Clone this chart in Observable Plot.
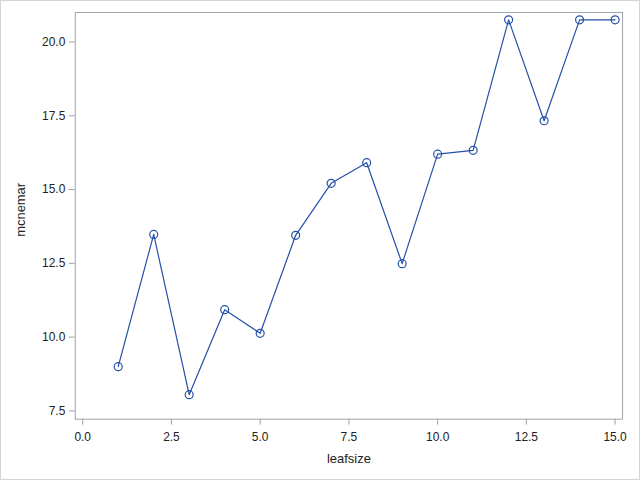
<!DOCTYPE html>
<html>
<head>
<meta charset="utf-8">
<script src="https://cdn.jsdelivr.net/npm/d3@7"></script>
<script src="https://cdn.jsdelivr.net/npm/@observablehq/plot@0.6"></script>
<style>
  html, body { margin: 0; padding: 0; background: #fff; }
  #chart { width: 640px; height: 480px; box-sizing: border-box; border: 1px solid #d4d4d4; position: relative; overflow: hidden; }
  #chart svg { position: absolute; left: -1px; top: -1px; }
</style>
</head>
<body>
<div id="chart"></div>
<script>
const leafsize = [1, 2, 3, 4, 5, 6, 7, 8, 9, 10, 11, 12, 13, 14, 15];
const mcnemar = [9.0, 13.48, 8.05, 10.93, 10.13, 13.45, 15.21, 15.91, 12.49, 16.2, 16.33, 20.75, 17.33, 20.75, 20.75];
const xTicks = [0, 2.5, 5, 7.5, 10, 12.5, 15];
const yTicks = [7.5, 10, 12.5, 15, 17.5, 20];

const data = leafsize.map((x, i) => ({leafsize: x, mcnemar: mcnemar[i]}));
const lineColor = "#2350a8";
const axisColor = "#a0a4a8";

const chart = Plot.plot({
  width: 640,
  height: 480,
  marginLeft: 75,
  marginTop: 12,
  marginRight: 16,
  marginBottom: 60,
  style: {fontFamily: "Arial, 'Liberation Sans', sans-serif", fontSize: "12px", color: "#222", background: "transparent"},
  x: {domain: [-0.21, 15.21], ticks: xTicks, tickFormat: d3.format(".1f"), label: null},
  y: {domain: [7.22, 21.0], ticks: yTicks, tickFormat: d3.format(".1f"), label: null},
  marks: [
    Plot.frame({stroke: axisColor, strokeWidth: 1}),
    Plot.axisX({ticks: xTicks, tickFormat: d3.format(".1f"), tickSize: 6, tickPadding: 7, stroke: axisColor, fill: "#222", fontSize: 12, label: null}),
    Plot.axisY({ticks: yTicks, tickFormat: d3.format(".1f"), tickSize: 6, tickPadding: 4, stroke: axisColor, fill: "#222", fontSize: 12, label: null}),
    Plot.line(data, {x: "leafsize", y: "mcnemar", stroke: lineColor, strokeWidth: 1.2}),
    Plot.dot(data, {x: "leafsize", y: "mcnemar", r: 4, stroke: lineColor, strokeWidth: 1.2, fill: "none"}),
    Plot.text(["leafsize"], {frameAnchor: "bottom", textAnchor: "middle", lineAnchor: "middle", dy: 40, text: d => d, fontSize: 13, fill: "#222"}),
    Plot.text(["mcnemar"], {frameAnchor: "left", textAnchor: "middle", lineAnchor: "middle", dx: -55, dy: -6, rotate: -90, text: d => d, fontSize: 13, fill: "#222"})
  ]
});
document.getElementById("chart").appendChild(chart);
</script>
</body>
</html>
